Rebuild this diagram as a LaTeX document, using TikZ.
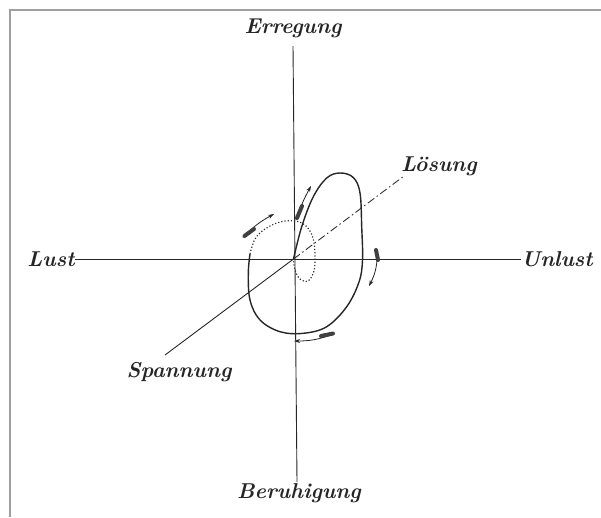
\documentclass[tikz,border=0pt]{standalone}
\usetikzlibrary{arrows.meta}
\begin{document}
\begin{tikzpicture}[x=1pt,y=-1pt,
  axis/.style={line width=0.9pt, black!85},
  lbl/.style={font=\fontsize{21.5}{24}\selectfont\bfseries\itshape, inner sep=0pt, text=black!85},
  loop/.style={line width=1.4pt, black!85},
  dotloop/.style={line width=1.2pt, black!80, dash pattern=on 1.2pt off 2pt},
  dashdot/.style={line width=0.9pt, black!80, dash pattern=on 8pt off 3pt on 1.5pt off 3pt},
  dirarrow/.style={line width=0.8pt, black!85, -{Stealth[length=6pt,width=4pt]}},
  feather/.style={line width=4pt, black!75, line cap=round}]
\useasboundingbox (0,0) rectangle (601,517);
\fill[white] (0,0) rectangle (601,517);
\draw[gray!75, line width=2pt] (601,9.5) -- (9.5,9.5) -- (9.5,517);

% labels
\node[lbl] (E) at (293,28) {Erregung};
\node[lbl] (B) at (299,493) {Beruhigung};
\node[lbl] (L) at (51,259) {Lust};
\node[lbl] (U) at (557,259) {Unlust};
\node[lbl] (Lo) at (439,166) {Lösung};
\node[lbl] (S) at (179,372) {Spannung};

\coordinate (O) at (293.5,259);
\coordinate (vt) at (293,46);
\coordinate (vb) at (297,482);
\coordinate (sp) at (165,355);
\coordinate (lo) at (404,176);

% axes
\draw[axis] (vt) -- (vb);
\draw[axis] (L.east) -- (U.west);
\draw[axis] (O) -- (sp);
\draw[dashdot] (O) -- (lo);

% solid loop
\draw[loop] plot[smooth, tension=0.6] coordinates {
  (293.5,259) (301.7,226.7) (313.3,196.7) (326.7,178) (340,173) (353.3,177.5)
  (360,193) (361.7,226.7) (362.5,260) (359,282) (346.7,306.7) (326.7,326.7)
  (303.3,333.3) (280,331.7) (260,320) (250,300) (248.3,273.3) (250,254)};
% dotted part
\draw[dotloop] plot[smooth, tension=0.6] coordinates {
  (250,254) (255,239) (265,229) (280,222) (295,221) (306,226) (313,238)
  (315,255) (314,271) (308,281) (300,279) (295,270) (293.5,259)};

% direction arrows
\coordinate (a1t) at (243,237); \coordinate (a1h) at (274,214);
\draw[dirarrow] (a1t) to[bend left=8] (a1h);
\draw[feather] (244.5,236) -- (254,229);

\coordinate (a2t) at (296,220); \coordinate (a2h) at (311,186);
\draw[dirarrow] (a2t) to[bend left=5] (a2h);
\draw[feather] (297,218) -- (302,206);

\coordinate (a3t) at (377,249); \coordinate (a3h) at (369,286);
\draw[dirarrow] (a3t) to[bend left=15] (a3h);
\draw[feather] (376,250) -- (378,260);

\coordinate (a4t) at (334,334); \coordinate (a4h) at (294,341);
\draw[dirarrow] (a4t) to[bend left=10] (a4h);
\draw[feather] (333,333.5) -- (321,336);
\end{tikzpicture}
\end{document}
